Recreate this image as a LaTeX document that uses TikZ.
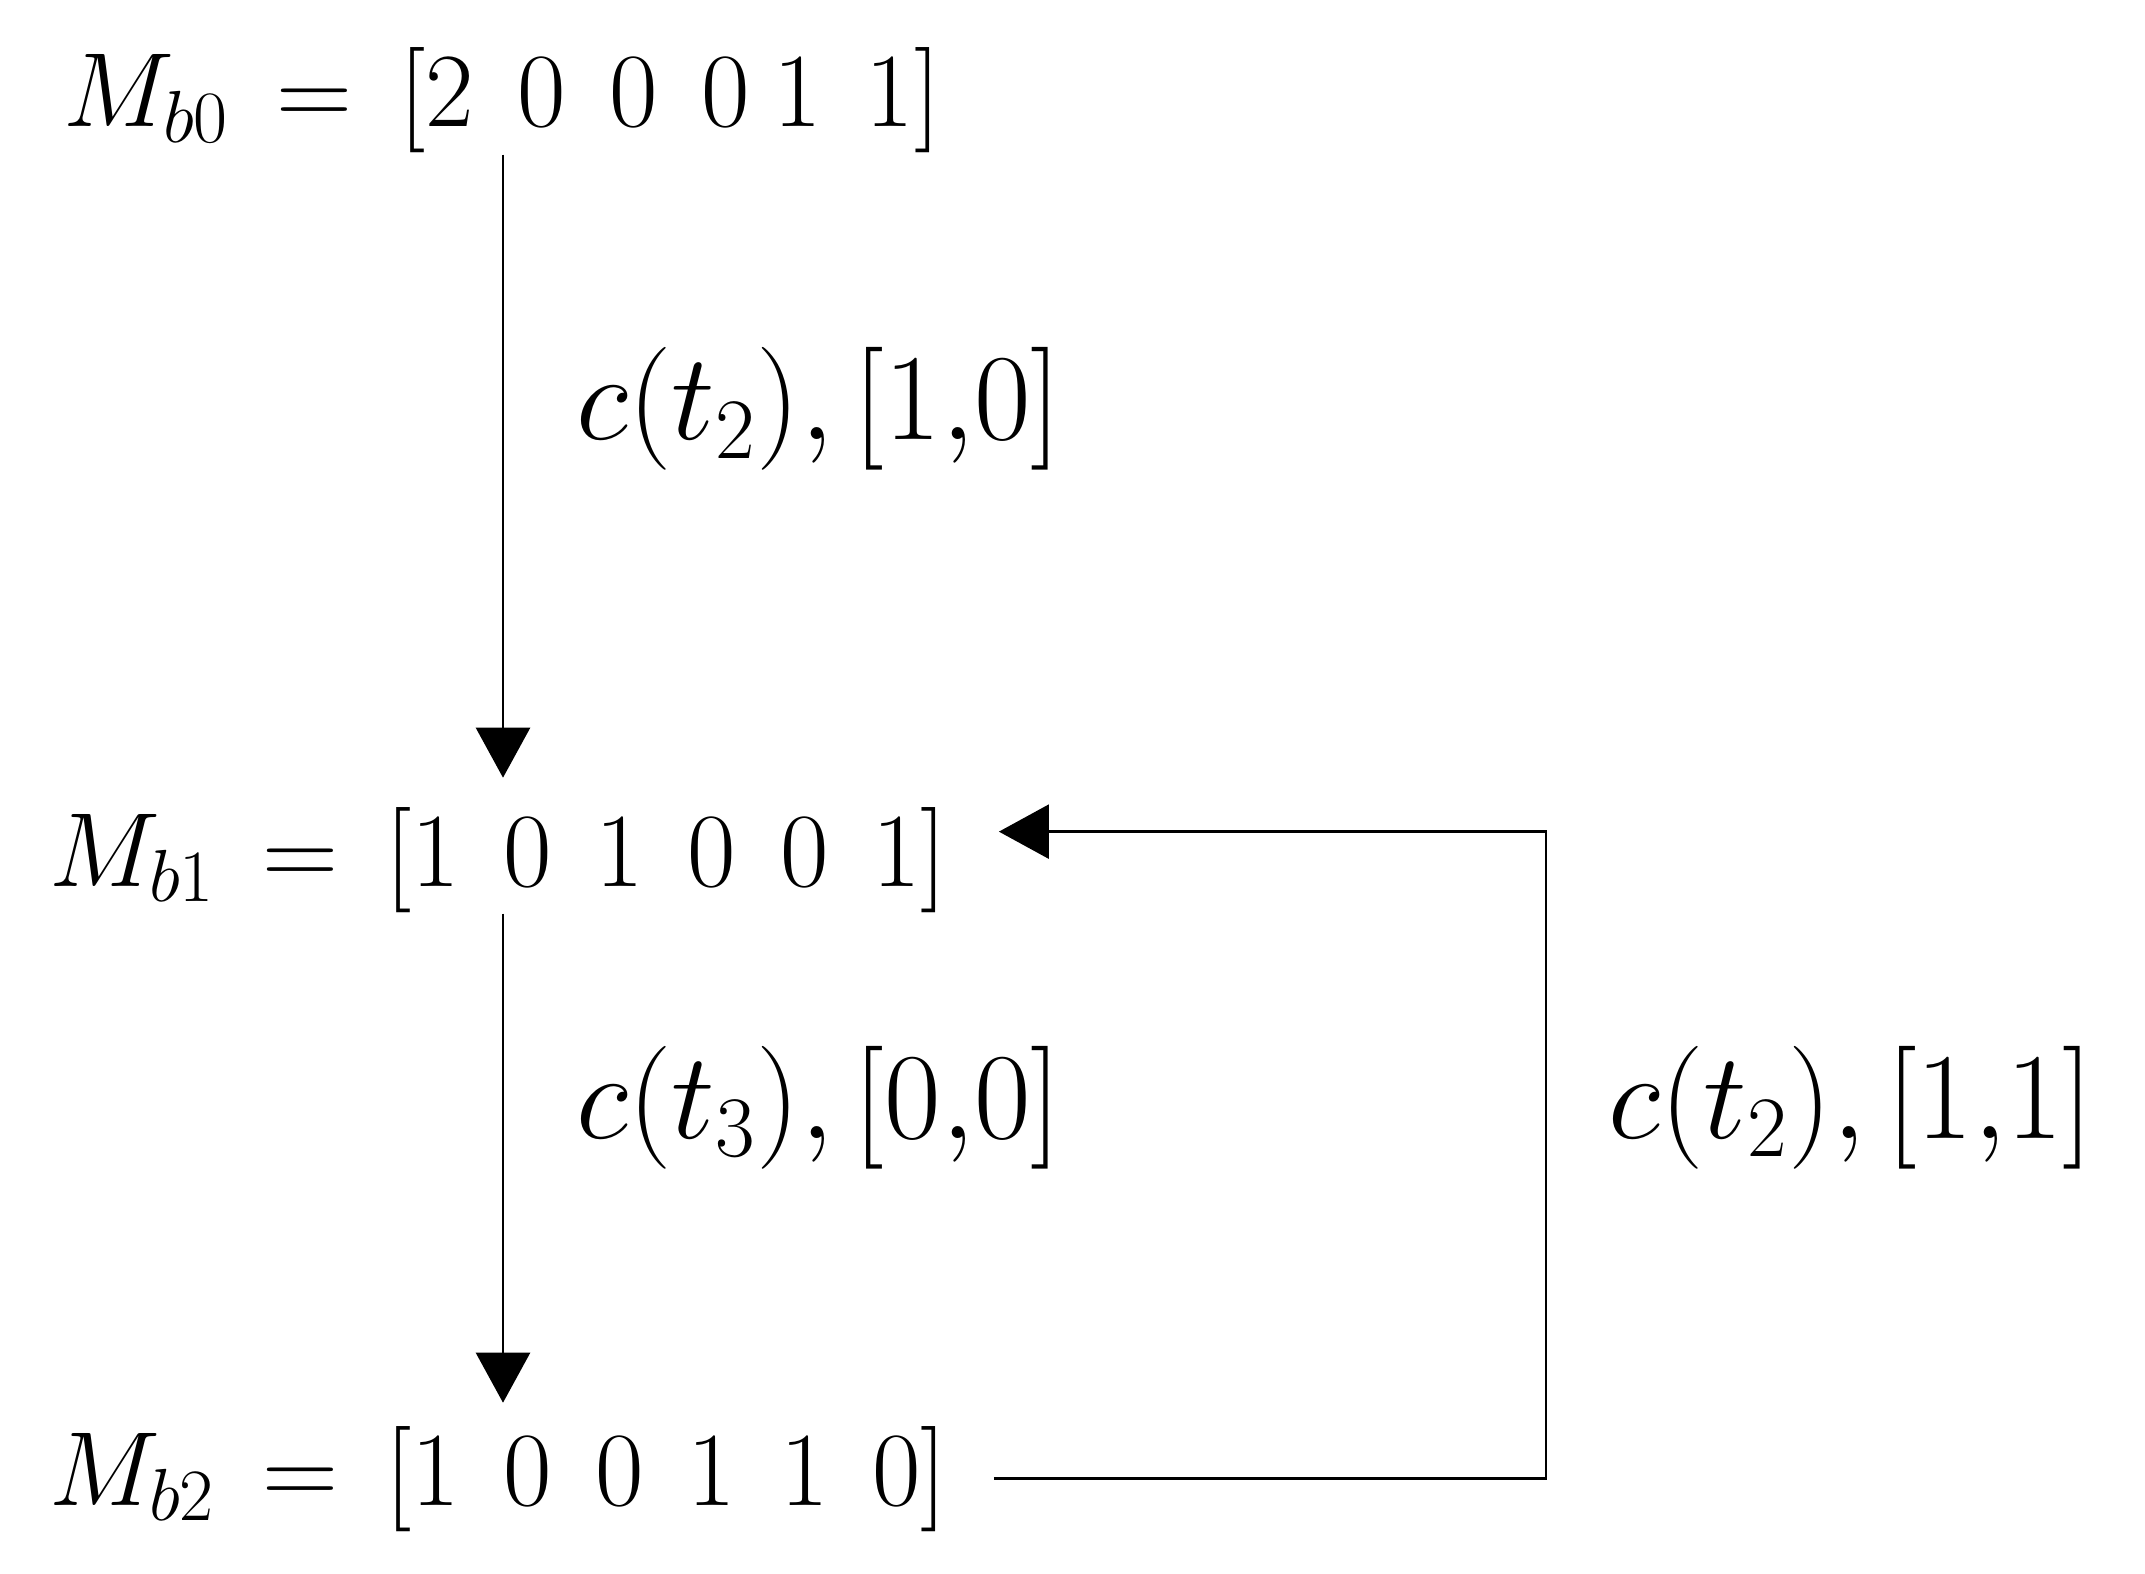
\RequirePackage{fix-cm}
\documentclass[tikz,border=0pt]{standalone}
\usepackage{amsmath, amssymb}
\usetikzlibrary{positioning,arrows.meta}

\newcommand{\dgap}{\mskip7.5mu}

\begin{document}
\begin{tikzpicture}[>={Triangle[length=5mm,width=5.4mm]}, line width=0.75pt,
  every node/.style={font=\fontsize{30}{36}\selectfont, inner sep=0pt},
  row/.style={anchor=base west},
  lbl/.style={anchor=base west, font=\fontsize{35}{42}\selectfont}]
  \useasboundingbox (0,0) rectangle (21.45,-15.74);
  % markings
  \node[row] (b0) at (0.62,-1.27) {$M_{b0} \,=\, [2\dgap0\dgap0\dgap0\mskip4mu1\dgap1]$};
  \node[row] (b1) at (0.48,-8.86) {$M_{b1} \,=\, [1\dgap0\dgap1\dgap0\dgap0\dgap1]$};
  \node[row] (b2) at (0.48,-15.05) {$M_{b2} \,=\, [1\dgap0\dgap0\dgap1\dgap1\dgap0]$};
  \coordinate (col) at (5.03,0);
  \coordinate (loop) at (15.46,0);
  % firings
  \draw[->, shorten >=0.28cm] (b0.south -| col) -- (b1.north -| col);
  \draw[->, shorten >=0.22cm] (b1.south -| col) -- (b2.north -| col);
  \draw[->, shorten <=0.45cm, shorten >=0.5cm] (b2.east) -- (b2.east -| loop) |- ([yshift=0.28cm]b1.east);
  \node[lbl] (l1) at (5.75,-4.40) {$c(t_2), [1{,}0]$};
  \node[lbl] (l2) at (5.75,-11.38) {$c(t_3), [0{,}0]$};
  \node[lbl] (l3) at (16.07,-11.38) {$c(t_2), [1{,}1]$};
\end{tikzpicture}
\end{document}
